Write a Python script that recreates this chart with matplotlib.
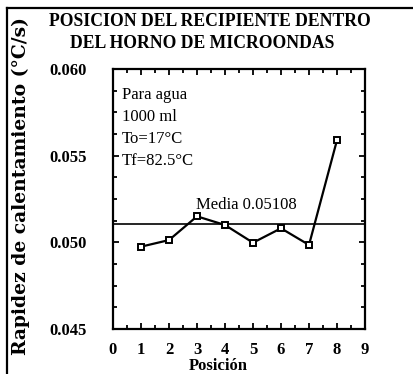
import matplotlib.pyplot as plt
from matplotlib.lines import Line2D
from matplotlib.ticker import MultipleLocator, FormatStrFormatter

# Datos
posicion = [1, 2, 3, 4, 5, 6, 7, 8]
rapidez = [0.04975, 0.05013, 0.05150, 0.05100, 0.04998, 0.05081, 0.04985, 0.05590]
media = 0.05108
notas = ["Para agua", "1000 ml", "To=17°C", "Tf=82.5°C"]
titulo = ["POSICION DEL RECIPIENTE DENTRO", "DEL HORNO DE MICROONDAS"]
x_ticks = list(range(0, 10))
y_ticks = [0.045, 0.050, 0.055, 0.060]

serif = ["Liberation Serif", "DejaVu Serif"]

fig = plt.figure(figsize=(4.13, 3.74), dpi=100)
ax = fig.add_axes([0.2736, 0.1203, 0.6102, 0.6952])

ax.plot(posicion, rapidez, color="black", lw=1.6, marker="s", ms=4.5,
        mfc="white", mec="black", mew=1.4, zorder=3)
ax.axhline(media, color="black", lw=1.2, zorder=2)

ax.set_xlim(0, 9)
ax.set_ylim(0.045, 0.060)
ax.set_xticks(x_ticks)
ax.set_yticks(y_ticks)
ax.xaxis.set_minor_locator(MultipleLocator(0.5))
ax.yaxis.set_minor_locator(MultipleLocator(0.00125))
ax.yaxis.set_major_formatter(FormatStrFormatter("%.3f"))

ax.tick_params(which="both", direction="in", top=True, right=True, width=1.3)
ax.tick_params(which="major", length=4)
ax.tick_params(which="minor", length=3)
ax.tick_params(axis="y", pad=19)
ax.tick_params(axis="x", pad=9)
for lab in ax.get_xticklabels() + ax.get_yticklabels():
    lab.set_family(serif)
    lab.set_fontweight("bold")
    lab.set_fontsize(12)
for s in ax.spines.values():
    s.set_linewidth(1.6)

# notas dentro del grafico
for i, t in enumerate(notas):
    ax.text(0.035, 0.90 - i * 0.085, t, transform=ax.transAxes, family=serif,
            fontsize=12, va="center", ha="left")
ax.text(2.95, media + 0.0006, "Media " + str(media), family=serif,
        fontsize=12, va="bottom", ha="left")

# titulo y etiquetas
fig.text(0.508, 1 - 21 / 374, titulo[0], family=serif, fontweight="bold",
         fontsize=12.7, ha="center", va="center")
fig.text(0.490, 1 - 44 / 374, titulo[1], family=serif, fontweight="bold",
         fontsize=12.7, ha="center", va="center")
fig.text(0.528, 1 - 366 / 374, "Posición", family=serif, fontweight="bold",
         fontsize=12, ha="center", va="center")
fig.text(21 / 413, 1 - 186 / 374, "Rapidez de calentamiento (°C/s)",
         family="DejaVu Serif", fontweight="bold", fontsize=13.5,
         rotation=90, ha="center", va="center")

# marco de la pagina escaneada
fig.add_artist(Line2D([7 / 413, 7 / 413], [0, 1 - 8 / 374], color="black", lw=1.6))
fig.add_artist(Line2D([7 / 413, 1], [1 - 8 / 374, 1 - 8 / 374], color="black", lw=1.6))

fig.savefig("out.png", dpi=100)
